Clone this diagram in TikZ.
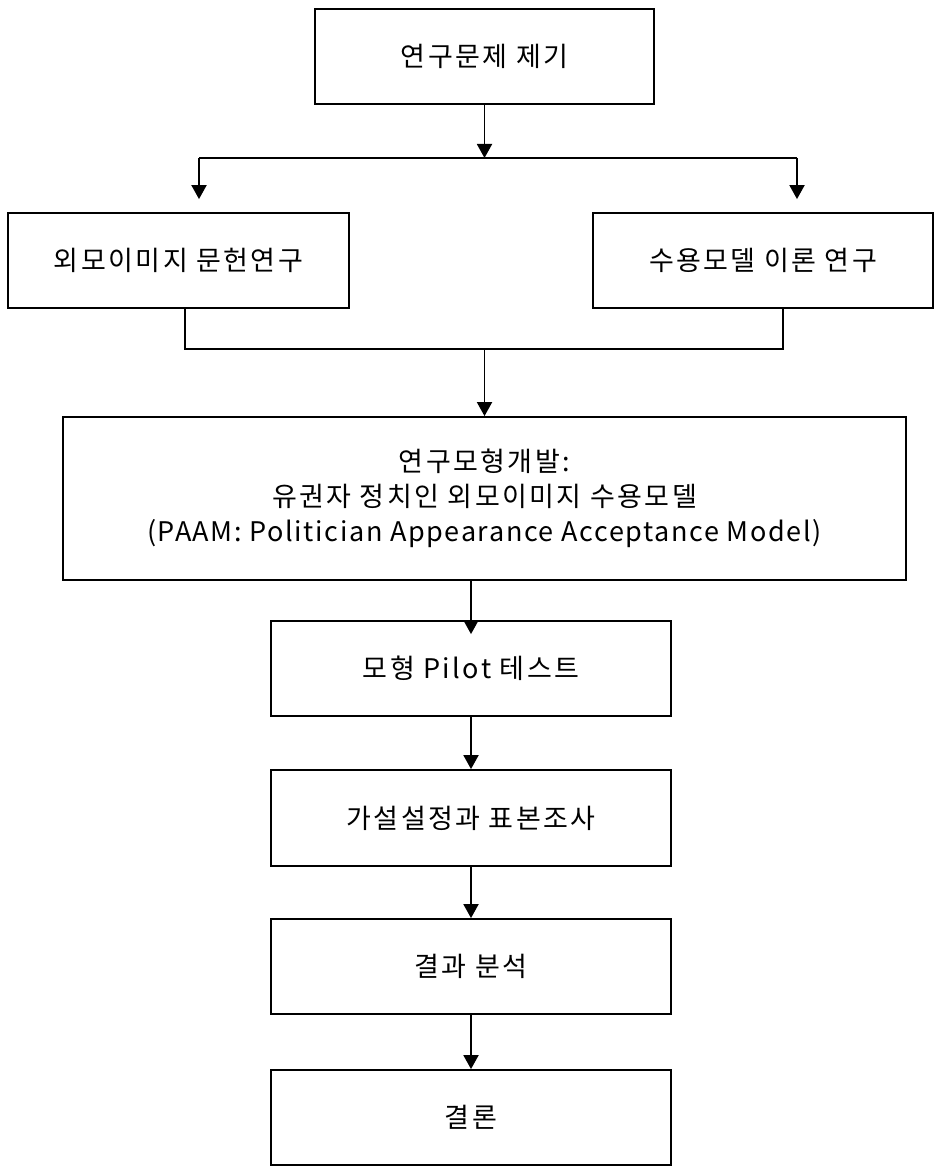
\documentclass[tikz,border=0pt]{standalone}
\usepackage{fontspec}
\setmainfont{Noto Sans CJK KR}[LetterSpace=9]
\newfontfamily\latinfont{Noto Sans CJK KR}[LetterSpace=6]
\usetikzlibrary{arrows.meta}
\begin{document}
\begin{tikzpicture}[x=1pt, y=-1pt,
    box/.style={draw, line width=1.8pt, minimum height=95pt, inner sep=0pt,
        align=center, font=\fontsize{27}{35}\selectfont},
    flow/.style={line width=1.9pt, -{Triangle[length=14pt, width=15pt]}}]
    \useasboundingbox (0,0) rectangle (937,1169);
    \node[box, minimum width=339pt] (problem) at (484.5,56.5) {연구문제 제기};
    \node[box, minimum width=341pt] (literature) at (178.5,260.5) {외모이미지 문헌연구};
    \node[box, minimum width=340pt] (theory) at (763,260.5) {수용모델 이론 연구};
    \node[box, minimum width=843pt, minimum height=163pt] (model) at (484.5,498.5)
        {연구모형개발:\\유권자 정치인 외모이미지 수용모델\\{\latinfont(PAAM: Politician Appearance Acceptance Model)}};
    \node[box, minimum width=400pt] (pilot) at (471,668.5) {모형 Pilot 테스트};
    \node[box, minimum width=400pt, minimum height=96pt] (survey) at (471,818) {가설설정과 표본조사};
    \node[box, minimum width=400pt] (analysis) at (471,966.5) {결과 분석};
    \node[box, minimum width=400pt] (conclusion) at (471,1117.5) {결론};
    % split and join
    \coordinate (split) at (484.5,158);
    \coordinate (splitL) at (199,158);
    \coordinate (splitR) at (797,158);
    \coordinate (joinL) at (185,349);
    \coordinate (joinR) at (783,349);
    \coordinate (join) at (484.5,349);
    \draw[flow] (problem.south) -- (split);
    \draw[line width=1.8pt] (splitL) -- (splitR);
    \draw[flow, shorten >=13pt] (splitL) -- (splitL |- literature.north);
    \draw[flow, shorten >=13pt] (splitR) -- (splitR |- theory.north);
    \draw[line width=1.8pt] (literature.south -| joinL) -- (joinL) -- (joinR) -- (theory.south -| joinR);
    \draw[flow] (join) -- (model.north);
    \draw[flow, shorten >=-14pt] (model.south -| pilot.north) -- (pilot.north);
    \foreach \a/\b in {pilot/survey, survey/analysis, analysis/conclusion}
        \draw[flow] (\a) -- (\b);
\end{tikzpicture}
\end{document}
